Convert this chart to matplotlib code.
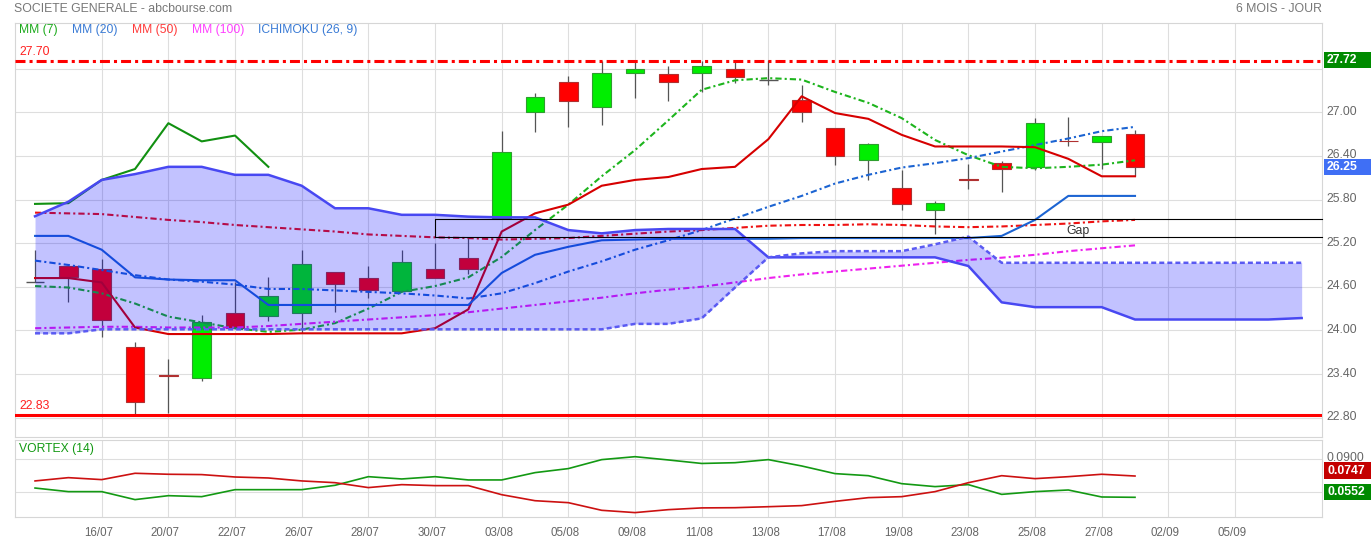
import matplotlib
matplotlib.use("Agg")
import matplotlib.pyplot as plt
from matplotlib.patches import Rectangle
from matplotlib import transforms

plt.rcParams['font.family'] = ['Liberation Sans', 'DejaVu Sans']
plt.rcParams['lines.scale_dashes'] = False

# ---- data ----
opens = [24.66, 24.88, 24.84, 23.77, 23.38, 23.35, 24.24, 24.20, 24.24, 24.80, 24.72, 24.54,
         24.84, 24.99, 25.55, 27.00, 27.41, 27.07, 27.54, 27.52, 27.54, 27.60, 27.45, 27.17,
         26.78, 26.34, 25.96, 25.65, 26.08, 26.30, 26.25, 26.61, 26.59, 26.70]
highs = [25.11, 24.88, 24.98, 23.84, 23.60, 24.21, 24.67, 24.73, 25.11, 24.80, 24.89, 25.11,
         25.20, 25.28, 26.74, 27.27, 27.50, 27.70, 27.70, 27.64, 27.70, 27.70, 27.72, 27.38,
         26.78, 26.58, 26.20, 25.78, 26.29, 26.33, 26.92, 26.94, 26.68, 26.76]
lows = [24.66, 24.39, 23.91, 22.84, 22.87, 23.31, 24.03, 24.13, 23.97, 24.26, 24.44, 24.54,
        24.72, 24.78, 25.53, 26.73, 26.80, 26.82, 27.20, 27.16, 27.28, 27.40, 27.37, 26.86,
        26.27, 26.07, 25.65, 25.33, 25.94, 25.90, 26.20, 26.53, 26.22, 26.12]
closes = [24.66, 24.74, 24.14, 23.02, 23.37, 24.12, 24.03, 24.47, 24.91, 24.64, 24.55, 24.94,
          24.72, 24.85, 26.45, 27.21, 27.15, 27.54, 27.60, 27.42, 27.64, 27.48, 27.45, 27.00,
          26.40, 26.56, 25.74, 25.75, 26.07, 26.22, 26.85, 26.60, 26.68, 26.25]

mm7 = [24.61, 24.59, 24.51, 24.37, 24.19, 24.11, 24.03, 23.98, 24.01, 24.10, 24.30, 24.53,
       24.61, 24.73, 25.01, 25.38, 25.73, 26.12, 26.48, 26.89, 27.31, 27.44, 27.47, 27.45,
       27.28, 27.13, 26.92, 26.62, 26.41, 26.25, 26.23, 26.25, 26.28, 26.34]
mm20 = [24.96, 24.90, 24.83, 24.76, 24.70, 24.67, 24.63, 24.57, 24.57, 24.55, 24.53, 24.51,
        24.48, 24.44, 24.51, 24.65, 24.81, 24.95, 25.11, 25.24, 25.38, 25.54, 25.70, 25.85,
        26.02, 26.14, 26.24, 26.30, 26.37, 26.46, 26.55, 26.64, 26.74, 26.80]
mm50 = [25.62, 25.61, 25.60, 25.56, 25.52, 25.49, 25.45, 25.42, 25.39, 25.36, 25.32, 25.30,
        25.28, 25.27, 25.25, 25.26, 25.27, 25.30, 25.33, 25.36, 25.38, 25.41, 25.44, 25.45,
        25.45, 25.46, 25.45, 25.43, 25.42, 25.43, 25.45, 25.47, 25.50, 25.52]
mm100 = [24.03, 24.04, 24.05, 24.05, 24.04, 24.04, 24.04, 24.06, 24.09, 24.12, 24.15, 24.18,
         24.21, 24.25, 24.30, 24.35, 24.40, 24.45, 24.51, 24.56, 24.60, 24.66, 24.72, 24.77,
         24.81, 24.85, 24.89, 24.93, 24.97, 25.00, 25.04, 25.09, 25.13, 25.17]

tenkan = [24.72, 24.72, 24.66, 24.04, 23.95, 23.95, 23.95, 23.95, 23.96, 23.96, 23.96, 23.96,
          24.03, 24.29, 25.36, 25.61, 25.73, 25.99, 26.07, 26.11, 26.22, 26.25, 26.63, 27.22,
          26.99, 26.91, 26.69, 26.53, 26.53, 26.53, 26.52, 26.36, 26.12, 26.12]
kijun = [25.30, 25.30, 25.11, 24.73, 24.70, 24.69, 24.69, 24.35, 24.35, 24.35, 24.35, 24.35,
         24.35, 24.35, 24.79, 25.04, 25.15, 25.24, 25.25, 25.26, 25.26, 25.26, 25.26, 25.27,
         25.27, 25.27, 25.27, 25.27, 25.27, 25.30, 25.52, 25.85, 25.85, 25.85]
senkou_a = [25.57, 25.77, 26.07, 26.15, 26.25, 26.25, 26.14, 26.14, 25.99, 25.68, 25.68, 25.59,
            25.59, 25.565, 25.555, 25.555, 25.38, 25.335, 25.38, 25.395, 25.395, 25.395, 25.005,
            25.005, 25.005, 25.005, 25.005, 25.005, 24.886, 24.386, 24.32, 24.32, 24.32, 24.15,
            24.15, 24.15, 24.15, 24.15, 24.17]
senkou_b = [23.96, 23.96, 24.015, 24.015, 24.015, 24.015, 24.015, 24.015, 24.015, 24.015,
            24.015, 24.015, 24.015, 24.015, 24.015, 24.015, 24.015, 24.015, 24.09, 24.09,
            24.166, 24.59, 25.005, 25.06, 25.09, 25.09, 25.09, 25.184, 25.29, 24.93, 24.93,
            24.93, 24.93, 24.93, 24.93, 24.93, 24.93, 24.93, 24.93]
chikou_shift = 26

vi_plus = [0.0637, 0.0604, 0.0604, 0.0531, 0.0567, 0.0558, 0.0622, 0.0622, 0.0622, 0.0662,
           0.0741, 0.0720, 0.0741, 0.0711, 0.0711, 0.0778, 0.0815, 0.0897, 0.0924, 0.0894,
           0.0862, 0.0869, 0.0897, 0.0839, 0.0769, 0.0750, 0.0677, 0.0650, 0.0668, 0.0579,
           0.0604, 0.0619, 0.0555, 0.0552]
vi_minus = [0.0702, 0.0732, 0.0714, 0.0772, 0.0763, 0.0760, 0.0738, 0.0729, 0.0702, 0.0686,
            0.0641, 0.0668, 0.0659, 0.0659, 0.0576, 0.0521, 0.0503, 0.0433, 0.0412, 0.0439,
            0.0455, 0.0457, 0.0466, 0.0476, 0.0515, 0.0549, 0.0558, 0.0604, 0.0686, 0.0750,
            0.0723, 0.0741, 0.0763, 0.0747]

date_labels = ['16/07', '20/07', '22/07', '26/07', '28/07', '30/07', '03/08', '05/08', '09/08',
               '11/08', '13/08', '17/08', '19/08', '23/08', '25/08', '27/08', '02/09', '05/09']
date_pos = list(range(2, 37, 2))
price_ticks = [22.80, 23.40, 24.00, 24.60, 25.20, 25.80, 26.40, 27.00, 27.60]
vortex_ticks = [0.06, 0.09]

period_high = 27.70
high_marker = 27.72
period_low = 22.83
gap_start = 12

# ---- figure ----
W, H = 1371, 541
fig = plt.figure(figsize=(W / 100, H / 100), dpi=100)
ax = fig.add_axes([14.7 / W, 1 - 436.7 / H, (1322 - 14.7) / W, (436.7 - 22.7) / H])
axv = fig.add_axes([14.7 / W, 1 - 517.3 / H, (1322 - 14.7) / W, (517.3 - 440.3) / H])


def shift(labels, dx_px, dy_px):
    for lab in labels:
        lab.set_transform(lab.get_transform() +
                          transforms.ScaledTranslation(dx_px / 100, dy_px / 100, fig.dpi_scale_trans))


for a in (ax, axv):
    for s in a.spines.values():
        s.set_color('#D6D6D6')
        s.set_linewidth(0.8)
    a.set_xlim(-0.61, 38.61)
    a.set_xticks(date_pos)
    a.grid(True, color='#DEDEDE', lw=0.8)
    a.set_axisbelow(True)
    a.yaxis.tick_right()

# tick labels sitting under the value boxes are hidden, as in the reference
boxed = {27.60, 0.06}

ax.set_ylim(22.538, 28.2325)
ax.set_yticks(price_ticks, ['' if t in boxed else '%.2f' % t for t in price_ticks])
ax.tick_params(axis='y', length=0, pad=3.5, labelsize=8.8, labelcolor='#666666')
ax.tick_params(axis='x', length=0, labelbottom=False)
shift(ax.get_yticklabels(), 0, 2)

axv.set_ylim(0.0369, 0.1074)
axv.set_yticks(vortex_ticks, ['' if t in boxed else '%.4f' % t for t in vortex_ticks])
axv.tick_params(axis='y', length=0, pad=3.5, labelsize=8.8, labelcolor='#666666')
shift(axv.get_yticklabels(), 0, 3)
axv.set_xticks(date_pos, date_labels)
axv.tick_params(axis='x', length=0, pad=7, labelsize=8.3, labelcolor='#666666')
shift(axv.get_xticklabels(), -3, 0)

# ---- candles ----
x = list(range(len(closes)))
ax.vlines(x, lows, highs, colors='#555555', lw=0.9, zorder=2)
bw = 0.56
for i in x:
    o, c = opens[i], closes[i]
    if o == c:
        ax.hlines(c, i - bw / 2, i + bw / 2, colors='#555555', lw=1.0, zorder=2.1)
        continue
    if c > o:
        fc, ec = '#00EE00', '#2E9E2E'
    else:
        fc, ec = '#FF0000', '#B03030'
    ax.add_patch(Rectangle((i - bw / 2, min(o, c)), bw, abs(c - o), facecolor=fc,
                           edgecolor=ec, lw=0.8, zorder=2.1))

# ---- moving averages and ichimoku lines ----
dashdot = (0, (4.5, 2.2, 1.5, 2.2))
ax.plot(x, mm7, color='#1DB41D', lw=1.5, ls=dashdot, zorder=3)
ax.plot(x, mm20, color='#1C64D2', lw=1.5, ls=dashdot, zorder=3)
ax.plot(x, mm50, color='#EE1111', lw=1.5, ls=dashdot, zorder=3)
ax.plot(x, mm100, color='#EE22EE', lw=1.5, ls=dashdot, zorder=3)
ax.plot(x, tenkan, color='#D60000', lw=1.5, zorder=3)
ax.plot(x, kijun, color='#1C64D2', lw=1.5, zorder=3)
ax.plot(x[:len(closes) - chikou_shift], closes[chikou_shift:], color='#119011', lw=1.5, zorder=3)

xc = list(range(len(senkou_a)))
ax.fill_between(xc, senkou_a, senkou_b, color='#0000FF', alpha=0.24, lw=0, zorder=4)
ax.plot(xc, senkou_a, color='#4848F2', lw=1.8, zorder=5)
ax.plot(xc, senkou_b, color='#5A5AF2', lw=1.8, ls=(0, (3.6, 2.2)), zorder=5)

# ---- gap ----
gap_low, gap_high = highs[gap_start + 1], lows[gap_start + 2]
xmax = ax.get_xlim()[1]
ax.plot([xmax, gap_start, gap_start, xmax], [gap_high, gap_high, gap_low, gap_low],
        color='black', lw=0.8, zorder=6, clip_on=False)
ax.annotate('Gap', xy=(31.3, (gap_low + gap_high) / 2), xytext=(0, -2.5),
            textcoords='offset pixels', color='#333333', fontsize=8.8,
            ha='center', va='center', zorder=6)

# ---- high / low lines ----
ax.axhline(period_high, color='#FF0000', lw=2.2, ls=(0, (7.2, 2.9, 2.2, 2.9)), zorder=6)
ax.axhline(period_low, color='#FF0000', lw=2.2, zorder=6)
for v in (period_high, period_low):
    ax.annotate('%.2f' % v, xy=(0, v), xycoords=('axes fraction', 'data'), xytext=(4.3, 9),
                textcoords='offset pixels', color='#FF2020', fontsize=8.8, va='center')

# ---- vortex ----
axv.plot(x, vi_plus, color='#139913', lw=1.2)
axv.plot(x, vi_minus, color='#CC1111', lw=1.2)

# ---- texts ----
fig.text(14 / W, 1 - 8.5 / H, 'SOCIETE GENERALE - abcbourse.com', color='#777777',
         fontsize=8.8, va='center', ha='left')
fig.text(1322 / W, 1 - 8.5 / H, '6 MOIS - JOUR', color='#777777', fontsize=8.8,
         va='center', ha='right')
legend = [('MM (7)', '#1DAA1D', 19), ('MM (20)', '#3A7BD5', 72.3), ('MM (50)', '#FF3B3B', 132.3),
          ('MM (100)', '#FF40FF', 191.7), ('ICHIMOKU (26, 9)', '#3A7BD5', 257.7)]
for txt, col, px in legend:
    fig.text(px / W, 1 - 30 / H, txt, color=col, fontsize=8.7, va='center', ha='left')
fig.text(18.7 / W, 1 - 449 / H, 'VORTEX (14)', color='#139913', fontsize=8.7,
         va='center', ha='left')


def value_box(axis, value, color, dy=0.0):
    yd = axis.transData.transform((0, value))[1] + dy
    h = 16.5
    fig.add_artist(Rectangle((1324 / W, (yd - h / 2) / H), 47 / W, h / H,
                             transform=fig.transFigure, facecolor=color, edgecolor='none'))
    fig.text(1327 / W, yd / H, ('%.4f' % value) if value < 1 else ('%.2f' % value),
             color='white', fontsize=8.8, fontweight='bold', va='center', ha='left')


value_box(ax, high_marker, '#008A00')
value_box(ax, closes[-1], '#3F6FF5')
value_box(axv, vi_minus[-1], '#C40000', dy=5.5)
value_box(axv, vi_plus[-1], '#008A00', dy=5.5)

fig.savefig('out.png', dpi=100)
